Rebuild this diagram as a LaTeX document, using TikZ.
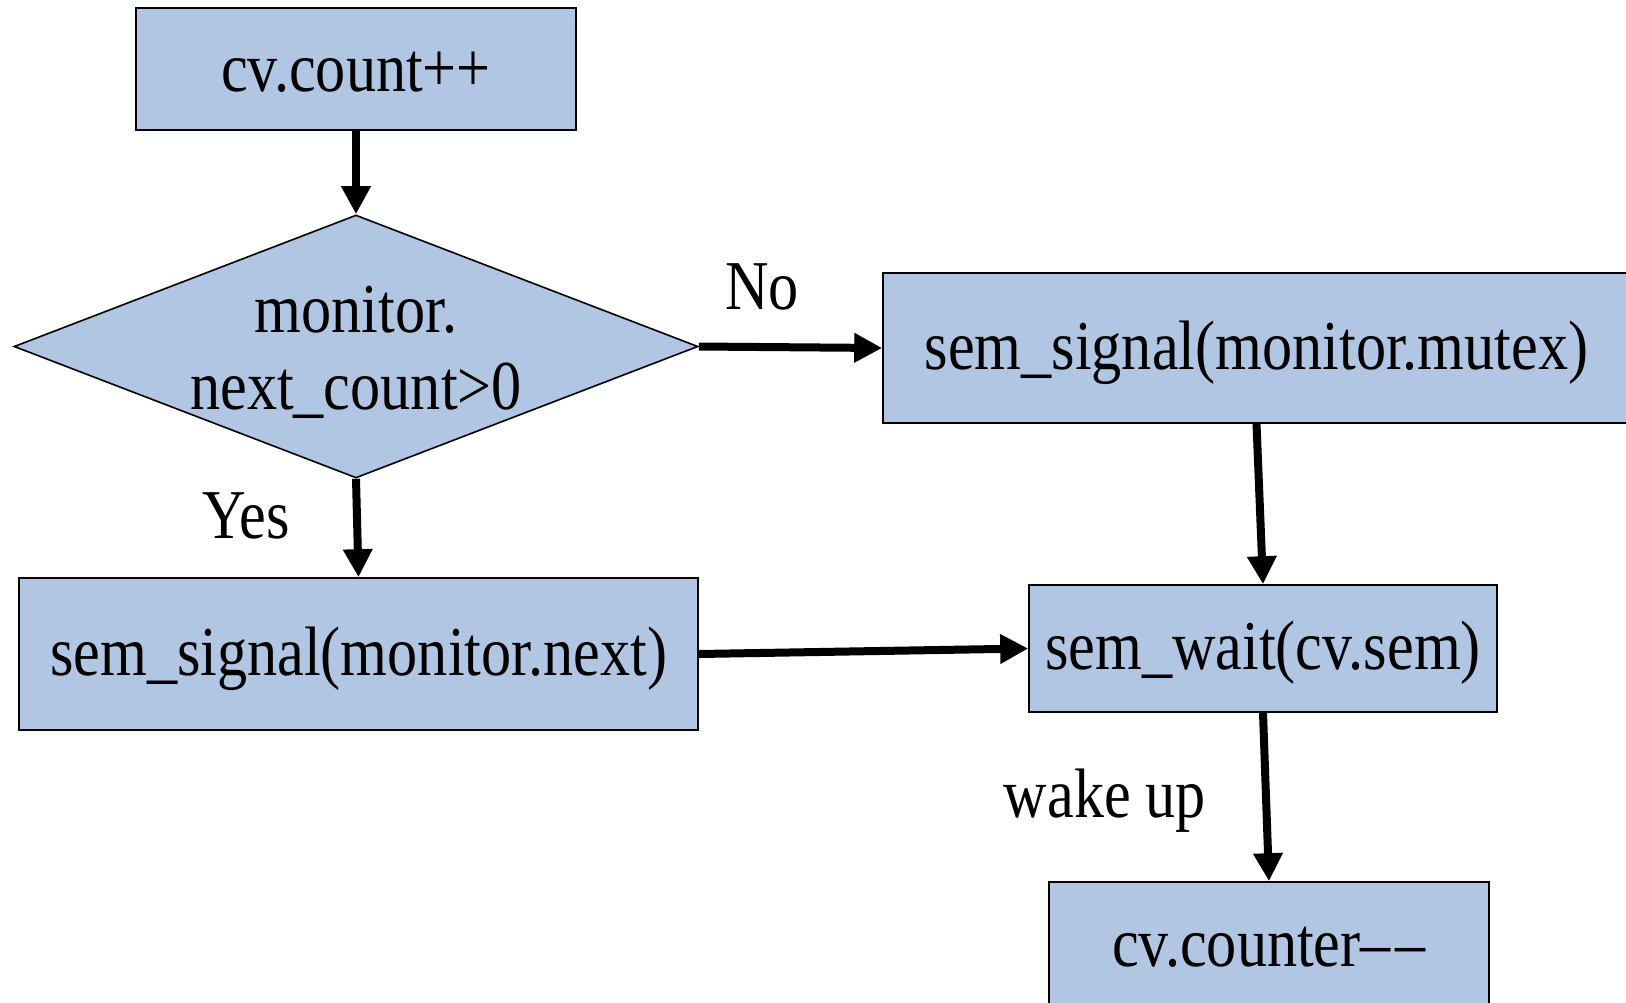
\documentclass[tikz,border=0pt]{standalone}
\usepackage{fontspec}
\setmainfont{Liberation Serif}[FakeStretch=0.86]
\usetikzlibrary{arrows.meta,shapes.geometric}
\definecolor{boxfill}{RGB}{176,198,226}
\begin{document}
\begin{tikzpicture}[x=0.5pt,y=-0.5pt,
  every node/.style={font=\fontsize{35pt}{38.5pt}\selectfont},
  box/.style={draw=black,line width=0.8pt,fill=boxfill,inner sep=0pt},
  parbox/.style={box,text height=28pt,text depth=7pt},
  plainbox/.style={box,text height=22pt,text depth=0pt},
  diam/.style={draw=black,line width=0.8pt,fill=boxfill,diamond,inner sep=0pt},
  conn/.style={line width=4pt,-{Triangle[width=14pt,length=14pt]}},
  lbl/.style={inner sep=0pt}]
\clip (0,0) rectangle (1626,1002);
\useasboundingbox (0,0) rectangle (1626,1002);
\node[plainbox,minimum width=220pt,minimum height=61pt] (count) at (356,69) {cv.count++};
\node[diam,minimum width=342pt,minimum height=131.5pt] (d) at (356,346.5) {};
\node[lbl,align=center] (dtext) at (356,352) {monitor.\\next\_count>0};
\node[parbox,minimum width=373.5pt,minimum height=75pt] (mutex) at (1256.5,348) {sem\_signal(monitor.mutex)};
\node[parbox,minimum width=339.5pt,minimum height=76pt] (next) at (358.5,654) {sem\_signal(monitor.next)};
\node[parbox,minimum width=234pt,minimum height=63.5pt] (wait) at (1263,648.5) {sem\_wait(cv.sem)};
\node[plainbox,minimum width=220pt,minimum height=62pt] (counter) at (1269,944) {cv.counter\textendash\kern2.5pt\textendash};
\node[lbl] (no) at (762,287) {No};
\node[lbl] (yes) at (246,516) {Yes};
\node[lbl] (wake) at (1105,801) {wake up};
\draw[conn] (count.south) -- (d.north);
\draw[conn] (d.east) -- (mutex.west);
\draw[conn] (d.south) -- (next.north);
\draw[conn] (next.east) -- (wait.west);
\draw[conn] (mutex.south) -- (wait.north);
\draw[conn] (wait.south) -- (counter.north);
\end{tikzpicture}
\end{document}
